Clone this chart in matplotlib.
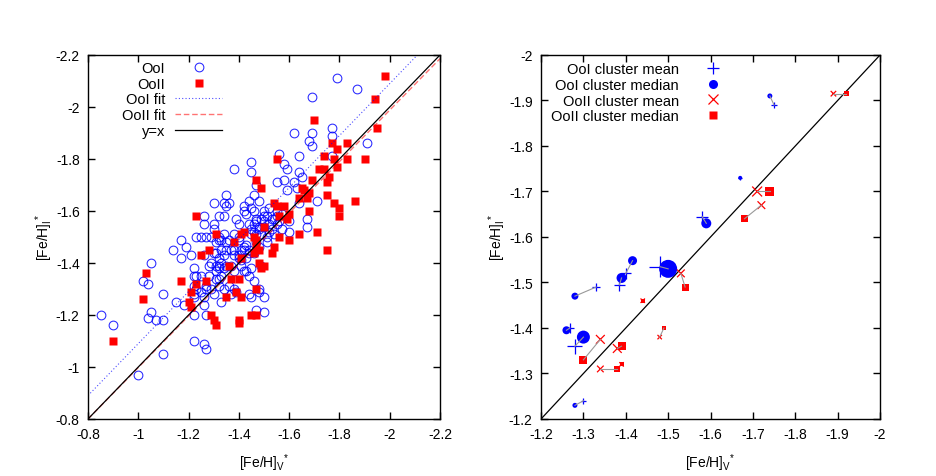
import numpy as np
import matplotlib.pyplot as plt
from matplotlib.lines import Line2D
from matplotlib.ticker import MultipleLocator, FuncFormatter

plt.rcParams['font.family'] = ['Liberation Sans', 'DejaVu Sans']
plt.rcParams['font.size'] = 10
plt.rcParams['axes.unicode_minus'] = False
plt.rcParams['mathtext.fontset'] = 'custom'
plt.rcParams['mathtext.rm'] = 'Liberation Sans'
plt.rcParams['mathtext.it'] = 'Liberation Sans:italic'

# ---- left panel: individual stars, [Fe/H]_V vs [Fe/H]_I ----
ooi_v = [-0.85, -0.90, -1.00, -1.05, -1.02, -1.04, -1.10, -1.05, -1.04, -1.07,
         -1.10, -1.10, -1.14, -1.17, -1.17, -1.19, -1.21, -1.23, -1.15, -1.18,
         -1.22, -1.22, -1.26, -1.27, -1.27, -1.26, -1.26, -1.26, -1.30, -1.30,
         -1.27, -1.31, -1.22, -1.22, -1.23, -1.25, -1.22, -1.26, -1.27, -1.29,
         -1.28, -1.29, -1.31, -1.31, -1.32, -1.32, -1.30, -1.33, -1.32, -1.34,
         -1.35, -1.32, -1.34, -1.32, -1.34, -1.34, -1.35, -1.38, -1.39, -1.42,
         -1.43, -1.44, -1.48, -1.46, -1.44, -1.48, -1.49, -1.51, -1.40, -1.35,
         -1.38, -1.40, -1.42, -1.44, -1.43, -1.41, -1.35, -1.34, -1.38, -1.39,
         -1.45, -1.50, -1.47, -1.50, -1.48, -1.45, -1.49, -1.51, -1.52, -1.54,
         -1.55, -1.79, -1.87, -1.69, -1.77, -1.62, -1.69, -1.68, -1.69, -1.77,
         -1.91, -1.56, -1.64, -1.58, -1.59, -1.45, -1.45, -1.38, -1.64, -1.65,
         -1.58, -1.55, -1.62, -1.63, -1.59, -1.47, -1.46, -1.35, -1.36, -1.45,
         -1.52, -1.40, -1.47, -1.50, -1.45, -1.50, -1.54, -1.57, -1.60, -1.60,
         -1.67, -1.67, -1.71, -1.25, -1.33, -1.36, -1.40, -1.43, -1.45, -1.47,
         -1.30, -1.37, -1.64, -1.77, -1.42, -1.47, -1.48, -1.30, -1.29, -1.32,
         -1.46, -1.47, -1.31, -1.33, -1.26, -1.41, -1.42, -1.38, -1.40, -1.44,
         -1.46, -1.48, -1.32, -1.33, -1.37, -1.38, -1.41, -1.42, -1.43, -1.28,
         -1.31, -1.33, -1.44, -1.46, -1.22, -1.23, -1.27, -1.32, -1.34, -1.36,
         -1.22, -1.25, -1.44, -1.48, -1.37, -1.46, -1.50, -1.52, -1.53, -1.55,
         -1.49, -1.51, -1.53, -1.56, -1.50, -1.55, -1.57]
ooi_i = [-1.20, -1.16, -0.97, -1.40, -1.33, -1.32, -1.28, -1.21, -1.19, -1.18,
         -1.18, -1.05, -1.45, -1.42, -1.49, -1.46, -1.43, -1.50, -1.25, -1.24,
         -1.20, -1.10, -1.09, -1.07, -1.20, -1.24, -1.55, -1.58, -1.63, -1.53,
         -1.50, -1.48, -1.38, -1.35, -1.35, -1.35, -1.27, -1.27, -1.30, -1.30,
         -1.39, -1.40, -1.39, -1.37, -1.39, -1.34, -1.28, -1.25, -1.42, -1.43,
         -1.45, -1.50, -1.51, -1.58, -1.58, -1.63, -1.62, -1.51, -1.57, -1.62,
         -1.59, -1.64, -1.64, -1.55, -1.55, -1.53, -1.57, -1.58, -1.50, -1.48,
         -1.45, -1.43, -1.45, -1.44, -1.42, -1.41, -1.39, -1.38, -1.30, -1.29,
         -1.27, -1.27, -1.22, -1.21, -1.30, -1.38, -1.39, -1.48, -1.52, -1.57,
         -1.60, -2.11, -2.07, -2.04, -1.92, -1.90, -1.90, -1.87, -1.85, -1.89,
         -1.86, -1.82, -1.81, -1.78, -1.76, -1.79, -1.75, -1.76, -1.75, -1.73,
         -1.72, -1.71, -1.71, -1.69, -1.68, -1.70, -1.66, -1.66, -1.63, -1.61,
         -1.61, -1.55, -1.56, -1.58, -1.53, -1.54, -1.51, -1.53, -1.56, -1.52,
         -1.57, -1.54, -1.64, -1.50, -1.49, -1.49, -1.49, -1.47, -1.51, -1.48,
         -1.44, -1.45, -1.63, -1.81, -1.60, -1.57, -1.54, -1.55, -1.50, -1.49,
         -1.52, -1.51, -1.44, -1.45, -1.43, -1.45, -1.46, -1.43, -1.42, -1.45,
         -1.44, -1.46, -1.38, -1.40, -1.39, -1.37, -1.39, -1.37, -1.37, -1.35,
         -1.34, -1.35, -1.35, -1.33, -1.31, -1.30, -1.31, -1.31, -1.30, -1.31,
         -1.28, -1.29, -1.28, -1.29, -1.28, -1.60, -1.56, -1.55, -1.57, -1.55,
         -1.51, -1.50, -1.53, -1.56, -1.60, -1.58, -1.59]

ooii_v = [-1.23, -1.31, -1.28, -1.25, -1.03, -1.02, -0.90, -1.17, -1.21, -1.23,
          -1.27, -1.20, -1.21, -1.29, -1.30, -1.31, -1.35, -1.39, -1.41, -1.37,
          -1.40, -1.36, -1.41, -1.38, -1.41, -1.42, -1.47, -1.45, -1.47, -1.40,
          -1.40, -1.48, -1.49, -1.50, -1.54, -1.53, -1.50, -1.48, -1.47, -1.46,
          -1.54, -1.55, -1.56, -1.98, -1.94, -1.95, -1.90, -1.70, -1.77, -1.83,
          -1.79, -1.55, -1.74, -1.78, -1.83, -1.79, -1.72, -1.74, -1.76, -1.75,
          -1.69, -1.47, -1.49, -1.65, -1.66, -1.68, -1.67, -1.64, -1.75, -1.78,
          -1.80, -1.86, -1.80, -1.68, -1.58, -1.56, -1.60, -1.59, -1.71, -1.64,
          -1.60, -1.75, -1.47, -1.46]
ooii_i = [-1.58, -1.51, -1.45, -1.43, -1.36, -1.26, -1.10, -1.33, -1.29, -1.32,
          -1.33, -1.25, -1.23, -1.20, -1.18, -1.16, -1.27, -1.29, -1.27, -1.34,
          -1.34, -1.39, -1.42, -1.48, -1.51, -1.52, -1.30, -1.20, -1.20, -1.18,
          -1.17, -1.40, -1.38, -1.39, -1.46, -1.44, -1.54, -1.45, -1.49, -1.50,
          -1.63, -1.62, -1.50, -2.12, -2.03, -1.92, -1.80, -1.95, -1.86, -1.86,
          -1.84, -1.80, -1.81, -1.80, -1.80, -1.77, -1.76, -1.76, -1.73, -1.71,
          -1.72, -1.72, -1.69, -1.69, -1.68, -1.67, -1.65, -1.65, -1.66, -1.63,
          -1.61, -1.64, -1.58, -1.60, -1.62, -1.58, -1.59, -1.57, -1.52, -1.51,
          -1.49, -1.45, -1.46, -1.44]

# linear fits: [Fe/H]_I = slope * [Fe/H]_V + intercept
ooi_fit = (1.00, -0.09)
ooii_fit = (0.99, -0.008)

# ---- right panel: cluster means and medians ----
ooi_mean_v = [-1.40, -1.385, -1.48, -1.33, -1.268, -1.28, -1.30, -1.75, -1.67, -1.58]
ooi_mean_i = [-1.52, -1.495, -1.535, -1.49, -1.40, -1.36, -1.24, -1.89, -1.73, -1.645]
ooi_med_v = [-1.416, -1.39, -1.50, -1.28, -1.26, -1.30, -1.28, -1.74, -1.67, -1.59]
ooi_med_i = [-1.548, -1.51, -1.53, -1.47, -1.395, -1.38, -1.23, -1.91, -1.73, -1.63]
ooi_weight = [4.5, 5, 9, 3.5, 4, 6.5, 2.5, 2.5, 2, 5]

ooii_mean_v = [-1.34, -1.38, -1.39, -1.34, -1.44, -1.53, -1.48, -1.89, -1.71, -1.72]
ooii_mean_i = [-1.375, -1.355, -1.32, -1.31, -1.46, -1.52, -1.38, -1.915, -1.70, -1.67]
ooii_med_v = [-1.30, -1.39, -1.39, -1.38, -1.44, -1.54, -1.49, -1.92, -1.74, -1.68]
ooii_med_i = [-1.33, -1.36, -1.32, -1.31, -1.46, -1.49, -1.40, -1.915, -1.70, -1.64]
ooii_weight = [4, 4, 2, 3, 2, 3.5, 2, 2.5, 4.5, 3.5]

blue = '#0000ff'
red = '#ff0000'

fig = plt.figure(figsize=(9.37, 4.77), dpi=100)
ax1 = fig.add_axes([0.0939, 0.1195, 0.3757, 0.7631])
ax2 = fig.add_axes([0.5774, 0.1195, 0.3618, 0.7631])

fmt = FuncFormatter(lambda v, p: f'{v:g}')


def style(ax, step):
    ax.xaxis.set_major_locator(MultipleLocator(step))
    ax.yaxis.set_major_locator(MultipleLocator(step))
    ax.xaxis.set_major_formatter(fmt)
    ax.yaxis.set_major_formatter(fmt)
    ax.tick_params(direction='in', top=True, right=True, length=5, width=1,
                   labelsize=10, pad=6)
    for s in ax.spines.values():
        s.set_linewidth(1.0)
    ax.set_xlabel(r'[Fe/H]$_{\rm V}{}^{*}$', fontsize=10, labelpad=7.5)
    ax.set_ylabel(r'[Fe/H]$_{\rm I}{}^{*}$', fontsize=10, labelpad=0.5)


# left panel
ax1.plot(ooi_v, ooi_i, 'o', ls='none', mfc='none', mec=blue, ms=6.3, mew=0.75,
         alpha=0.85, label='OoI')
ax1.plot(ooii_v, ooii_i, 's', ls='none', color=red, mec='none', ms=5.8,
         label='OoII')
xx = np.array([-0.8, -2.2])
ax1.plot(xx, ooi_fit[0] * xx + ooi_fit[1], ls=(0, (1, 2)), color=blue, lw=0.8,
         alpha=0.7, label='OoI fit')
ax1.plot(xx, ooii_fit[0] * xx + ooii_fit[1], ls=(0, (4, 2)), color=red, lw=1.0,
         alpha=0.55, label='OoII fit')
ax1.plot(xx, xx, color='black', lw=0.9, label='y=x')
ax1.set_xlim(-0.8, -2.2)
ax1.set_ylim(-0.8, -2.2)
style(ax1, 0.2)
ax1.legend(loc='upper right', bbox_to_anchor=(222 / 937, 1 - 62 / 477),
           bbox_transform=fig.transFigure, frameon=False, markerfirst=False,
           handlelength=3.2, handletextpad=0.7, labelspacing=0.12,
           borderpad=0, borderaxespad=0, fontsize=10.5)

# right panel
for mv, mi, dv, di in zip(ooi_mean_v, ooi_mean_i, ooi_med_v, ooi_med_i):
    ax2.plot([mv, dv], [mi, di], color='#999999', lw=0.8, zorder=4)
for mv, mi, dv, di in zip(ooii_mean_v, ooii_mean_i, ooii_med_v, ooii_med_i):
    ax2.plot([mv, dv], [mi, di], color='#999999', lw=0.8, zorder=4)

w1 = np.array(ooi_weight)
w2 = np.array(ooii_weight)
ax2.scatter(ooi_mean_v, ooi_mean_i, s=(2.3 * w1 * 0.72) ** 2, marker='+',
            color=blue, lw=0.9, zorder=3)
ax2.scatter(ooi_med_v, ooi_med_i, s=(2 * w1 * 0.72) ** 2, marker='o',
            color=blue, edgecolors='none', zorder=3)
ax2.scatter(ooii_mean_v, ooii_mean_i, s=(2.2 * w2 * 0.72) ** 2, marker='x',
            color=red, lw=0.9, zorder=3)
ax2.scatter(ooii_med_v, ooii_med_i, s=(2 * w2 * 0.72) ** 2, marker='s',
            color=red, edgecolors='none', zorder=3)
xx2 = np.array([-1.2, -2.0])
ax2.plot(xx2, xx2, color='black', lw=0.9, zorder=2)
ax2.set_xlim(-1.2, -2.0)
ax2.set_ylim(-1.2, -2.0)
style(ax2, 0.1)

handles = [
    Line2D([], [], marker='+', ls='none', color=blue, ms=8, mew=0.9),
    Line2D([], [], marker='o', ls='none', color=blue, mec='none', ms=6.5),
    Line2D([], [], marker='x', ls='none', color=red, ms=6.5, mew=0.9),
    Line2D([], [], marker='s', ls='none', color=red, mec='none', ms=6.0),
]
labels = ['OoI cluster mean', 'OoI cluster median', 'OoII cluster mean',
          'OoII cluster median']
ax2.legend(handles, labels, loc='upper right',
           bbox_to_anchor=(736 / 937, 1 - 63 / 477),
           bbox_transform=fig.transFigure, frameon=False, markerfirst=False,
           handlelength=3.2, handletextpad=0.7, labelspacing=0.12,
           borderpad=0, borderaxespad=0, fontsize=10.5)

fig.savefig('out.png', dpi=100)
